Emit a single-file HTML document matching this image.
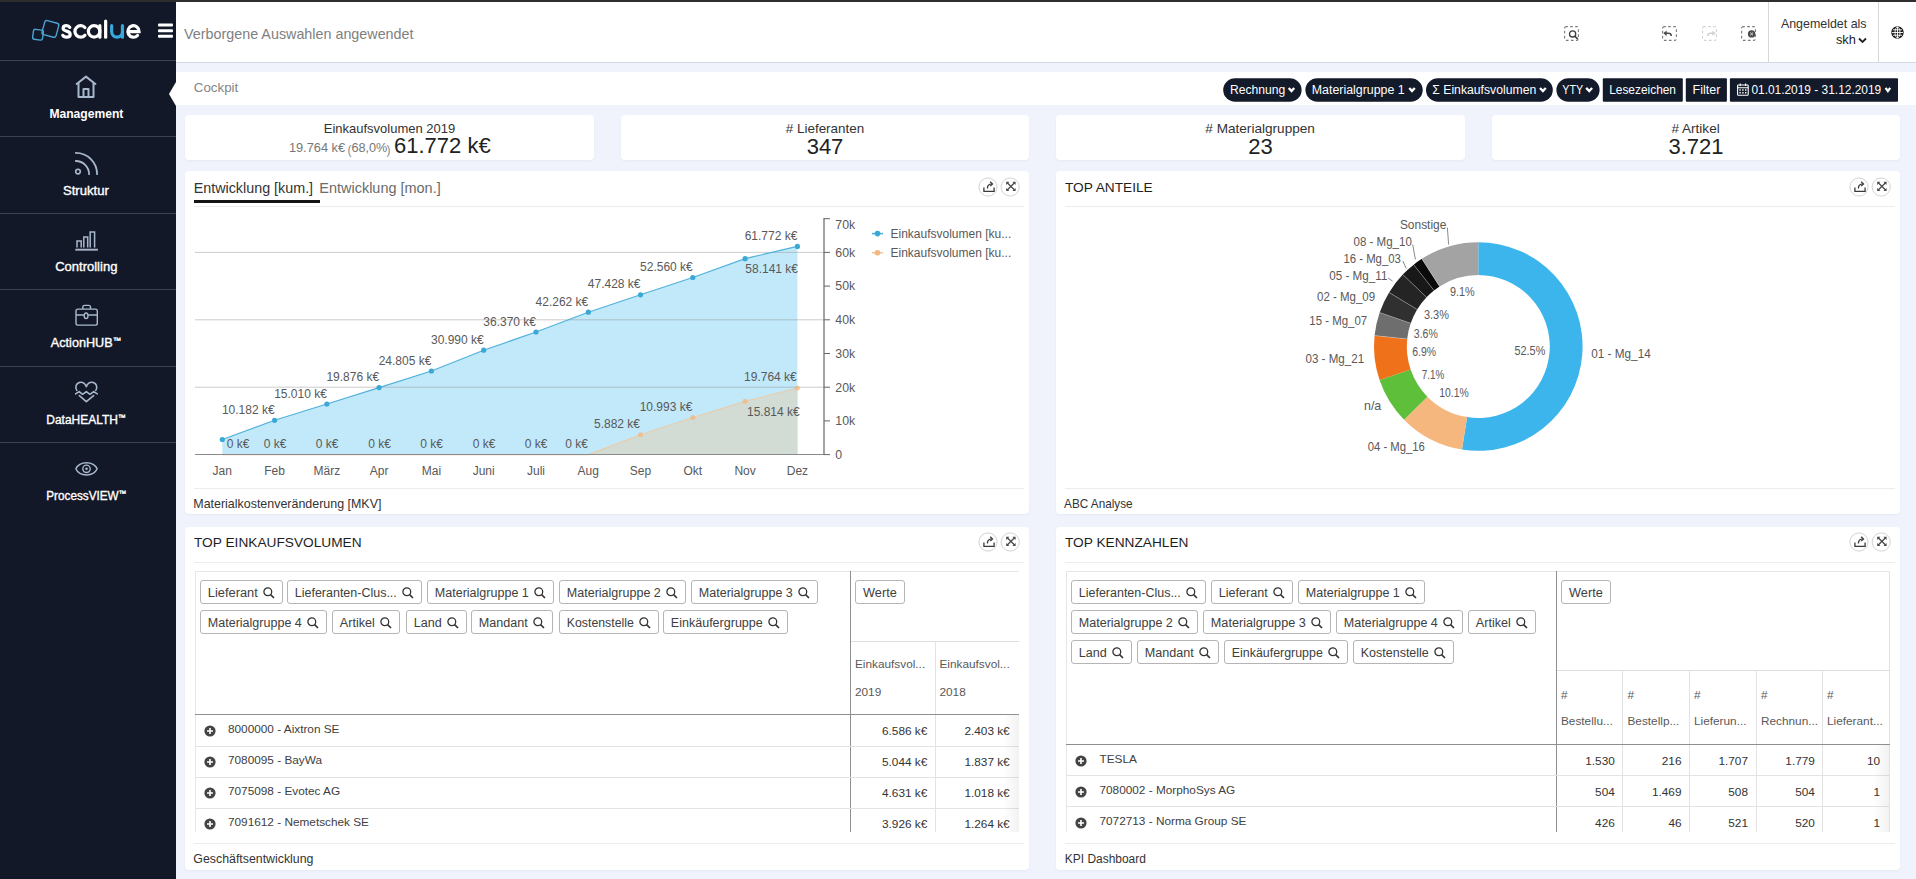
<!DOCTYPE html>
<html><head><meta charset="utf-8">
<style>
*{box-sizing:border-box;margin:0;padding:0}
html,body{width:1916px;height:879px;overflow:hidden;background:#f0f3fb;font-family:"Liberation Sans",sans-serif;color:#333}
.a{position:absolute}
.t{position:absolute;white-space:nowrap;line-height:1}
#topline{left:0;top:0;width:1916px;height:2px;background:#2e2e2e}
#side{left:0;top:2px;width:176px;height:877px;background:#131828}
.sep{position:absolute;left:0;width:176px;height:1px;background:#3b4354}
.mi{position:absolute;left:0;width:172px;text-align:center;color:#f2f4f7;font-size:12.5px;-webkit-text-stroke:0.3px #f2f4f7;line-height:1;white-space:nowrap}
#hdr{left:176px;top:2px;width:1740px;height:61px;background:#fff;border-bottom:1px solid #d5dae4}
#crumb{left:176px;top:72px;width:1740px;height:33px;background:#fff}
.card{position:absolute;background:#fff;border-radius:4px;box-shadow:0 1px 2px rgba(40,50,80,0.05)}
.pill{position:absolute;top:78px;height:24px;background:#131a2a;color:#fff;font-size:12.5px;line-height:24px;white-space:nowrap;text-align:center}
.chip{position:absolute;height:24px;border:1px solid #b5b5b5;border-radius:3px;background:#fff;color:#404040;font-size:12.3px;line-height:24px;padding-left:8px;white-space:nowrap}
.chip svg{position:absolute;right:6.7px;top:5.7px}
.ic{position:absolute;width:19px;height:19px;border:1px solid #c9c9c9;border-radius:50%;background:#fff}
.cl{font-size:11.5px;color:#595959}
</style></head><body>
<div id="topline" class="a"></div>
<div id="side" class="a"></div>

<svg class="a" style="left:28px;top:14px" width="120" height="30" viewBox="28 14 120 30">
 <g fill="none" stroke="#4aa3d2" stroke-width="1.4">
  <rect x="43.15" y="21.65" width="14.5" height="14.5" rx="2.2" transform="rotate(15 50.4 28.9)"/>
  <rect x="33" y="29.7" width="10" height="10" rx="2" transform="rotate(8 38 34.7)"/>
 </g>
 <g fill="none" stroke="#fff" stroke-width="3.2" stroke-linecap="round">
  <path d="M69.8 27.4 C69 26.1 67.8 25.65 66.4 25.65 C64.3 25.65 63.1 26.8 63.1 28.3 C63.1 30 64.7 30.6 66.6 31.1 C68.8 31.7 70.2 32.5 70.2 34.4 C70.2 36.2 68.6 37.15 66.5 37.15 C64.7 37.15 63.4 36.5 62.8 35.3"/>
  <path d="M84.9 27.5 A5.75 5.75 0 1 0 84.9 35.3"/>
  <circle cx="94.1" cy="31.4" r="5.75"/>
  <path d="M99.85 25.65 V37.15"/>
  <path d="M105.65 21.1 V37.15"/>
  <path d="M127.9 31.6 H139.1 A5.6 5.75 0 1 0 137.5 35.5"/>
 </g>
 <g fill="none" stroke="#3aa7dc" stroke-width="3.2" stroke-linecap="round">
  <path d="M111.65 25.65 V31.6 A5.4 5.55 0 0 0 122.45 31.6 M122.45 25.65 V37.15"/>
 </g>
</svg>
<svg class="a" style="left:157px;top:22px" width="17" height="18" viewBox="0 0 17 18">
 <rect x="1" y="1.6" width="15" height="3" rx="1" fill="#fff"/>
 <rect x="1" y="7.2" width="15" height="3" rx="1" fill="#fff"/>
 <rect x="1" y="12.7" width="15" height="3" rx="1" fill="#fff"/>
</svg>
<div class="sep" style="top:60px"></div>
<div class="sep" style="top:136px"></div>
<div class="sep" style="top:213px"></div>
<div class="sep" style="top:289px"></div>
<div class="sep" style="top:366px"></div>
<div class="sep" style="top:442px"></div>
<!-- icons -->
<svg class="a" style="left:74px;top:74px" width="24" height="25" viewBox="0 0 24 25" fill="none" stroke="#a8b8cc" stroke-width="2" stroke-linejoin="round">
 <path d="M2 10.5 L12 2.6 L22 10.5"/><path d="M4.5 9 V23 H19.5 V9"/><path d="M9.5 23 V15 H14.5 V23"/>
</svg>
<svg class="a" style="left:74px;top:151px" width="25" height="25" viewBox="0 0 25 25" fill="none" stroke="#a8b8cc" stroke-width="1.8" stroke-linecap="round">
 <circle cx="4" cy="20.6" r="2.3" stroke-width="1.6"/>
 <path d="M1.8 10 A13.3 13.3 0 0 1 15.1 23.2"/>
 <path d="M1.8 1.9 A21.3 21.3 0 0 1 23.1 23.2"/>
</svg>
<svg class="a" style="left:74px;top:230px" width="25" height="22" viewBox="0 0 25 22" fill="none" stroke="#a8b8cc" stroke-width="1.5">
 <path d="M3 17.6 V10.9 H7.2 V17.6"/><path d="M9.8 17.6 V6.9 H13.7 V17.6"/><path d="M16.2 17.6 V1.9 H20.6 V17.6"/>
 <path d="M1.3 19.7 H23.9" stroke-width="1.9"/>
</svg>
<svg class="a" style="left:74px;top:304px" width="25" height="23" viewBox="0 0 25 23" fill="none" stroke="#a8b8cc" stroke-width="1.4">
 <rect x="2" y="5.1" width="21.3" height="16" rx="1.8"/><path d="M8.8 5.1 V3.2 Q8.8 1.4 10.6 1.4 H14.7 Q16.5 1.4 16.5 3.2 V5.1"/><path d="M2 11 H10.1 M14.1 11 H23.3"/><ellipse cx="12.1" cy="11.8" rx="1.9" ry="2.8"/>
</svg>
<svg class="a" style="left:74px;top:380px" width="25" height="23" viewBox="0 0 25 23" fill="none" stroke="#a8b8cc" stroke-width="1.6" stroke-linejoin="round" stroke-linecap="round">
 <path d="M2.8 10.4 C0.8 7.5 2 2.4 6.8 2.3 C9.6 2.3 11.4 4.2 12.3 6.6 C13.2 4.2 15 2.3 17.8 2.3 C22.6 2.4 23.8 7.5 21.8 10.4"/>
 <path d="M1.6 13.9 L5.2 11.6 L8.6 14.3 L12.3 11.6 L16 14.3 L19.7 11.6 L23.3 13.9"/>
 <path d="M5.4 15.6 L12.3 21.6 L19.6 15.6"/>
</svg>
<svg class="a" style="left:74px;top:460px" width="25" height="18" viewBox="0 0 25 18" fill="none" stroke="#a8b8cc" stroke-width="1.5">
 <path d="M1.85 8.8 C5.5 0.6 19.5 0.6 23.15 8.8 C19.5 17 5.5 17 1.85 8.8 Z"/>
 <circle cx="12.5" cy="8.8" r="3.7" stroke-width="1.4"/><circle cx="12.5" cy="8.8" r="1.3" fill="#a8b8cc" stroke="none"/>
</svg>
<svg class="a" style="left:0;top:0" width="176" height="520" viewBox="0 0 176 520" font-family="Liberation Sans, sans-serif" fill="#fff">
<text x="49.4" y="117.7" textLength="74.0" lengthAdjust="spacingAndGlyphs" font-size="12" font-weight="bold">Management</text>
<text x="62.9" y="194.9" textLength="45.9" lengthAdjust="spacingAndGlyphs" font-size="12.5" stroke="#fff" stroke-width="0.35">Struktur</text>
<text x="55.2" y="270.9" textLength="62.2" lengthAdjust="spacingAndGlyphs" font-size="12.5" stroke="#fff" stroke-width="0.35">Controlling</text>
<text x="50.8" y="346.7" textLength="70.0" lengthAdjust="spacingAndGlyphs" font-size="12.5" stroke="#fff" stroke-width="0.35">ActionHUB<tspan font-size="8" dy="-4">&#8482;</tspan></text>
<text x="46.3" y="423.7" textLength="79.2" lengthAdjust="spacingAndGlyphs" font-size="12.5" stroke="#fff" stroke-width="0.35">DataHEALTH<tspan font-size="8" dy="-4">&#8482;</tspan></text>
<text x="46.3" y="499.7" textLength="79.8" lengthAdjust="spacingAndGlyphs" font-size="12.5" stroke="#fff" stroke-width="0.35">ProcessVIEW<tspan font-size="8" dy="-4">&#8482;</tspan></text>
</svg>
<svg class="a" style="left:168px;top:82px" width="9" height="24" viewBox="0 0 9 24"><path d="M8 0 L1 12 L8 24 Z" fill="#fff"/></svg>
<div id="hdr" class="a"></div>
<div id="crumb" class="a"></div>

<svg class="a" style="left:0;top:0" width="1916" height="110" viewBox="0 0 1916 110" font-family="Liberation Sans, sans-serif"><text x="184.1" y="38.5" textLength="229.4" lengthAdjust="spacingAndGlyphs" font-size="15" fill="#808080">Verborgene Auswahlen angewendet</text><text x="1780.9" y="27.7" textLength="85.7" lengthAdjust="spacingAndGlyphs" font-size="12.2" fill="#333">Angemeldet als</text><text x="1835.9" y="44.4" textLength="19.9" lengthAdjust="spacingAndGlyphs" font-size="13" fill="#222">skh</text><text x="193.8" y="91.9" textLength="44.5" lengthAdjust="spacingAndGlyphs" font-size="12.6" fill="#858585">Cockpit</text></svg>
<!-- toolbar icons -->
<svg class="a" style="left:1563.5px;top:26.3px" width="16" height="16" viewBox="0 0 16 16" fill="none" stroke="#7a7a7a" stroke-width="1.1">
 <rect x="0.6" y="0.6" width="13.8" height="13.8" rx="1.6" stroke-dasharray="2.6 2.4" stroke-dashoffset="1"/>
 <circle cx="8.6" cy="7.9" r="3.1" stroke="#3d3d3d" stroke-width="1.3"/><path d="M10.9 10.2 L13.8 13.1" stroke="#3d3d3d" stroke-width="1.6"/>
</svg>
<svg class="a" style="left:1661.7px;top:26.3px" width="16" height="16" viewBox="0 0 16 16" fill="none" stroke="#7a7a7a" stroke-width="1.1">
 <rect x="0.6" y="0.6" width="13.8" height="13.8" rx="1.6" stroke-dasharray="2.6 2.4" stroke-dashoffset="1"/>
 <path d="M2.5 7.2 H6.5 C8.6 7.2 9.3 8.4 9.3 10" stroke="#4a4a4a" stroke-width="1.5"/><path d="M1.3 7.2 L4.6 4.4 V10 Z" fill="#4a4a4a" stroke="none"/>
</svg>
<svg class="a" style="left:1701.7px;top:26.3px" width="16" height="16" viewBox="0 0 16 16" fill="none" stroke="#d2d2d2" stroke-width="1.1">
 <rect x="0.6" y="0.6" width="13.8" height="13.8" rx="1.6" stroke-dasharray="2.6 2.4" stroke-dashoffset="1"/>
 <path d="M12.5 7.2 H8.5 C6.4 7.2 5.7 8.4 5.7 10" stroke-width="1.5"/><path d="M13.7 7.2 L10.4 4.4 V10 Z" fill="#d2d2d2" stroke="none"/>
</svg>
<svg class="a" style="left:1741.2px;top:26.3px" width="16" height="16" viewBox="0 0 16 16" fill="none" stroke="#7a7a7a" stroke-width="1.1">
 <rect x="0.6" y="0.6" width="13.8" height="13.8" rx="1.6" stroke-dasharray="2.6 2.4" stroke-dashoffset="1"/>
 <circle cx="10.6" cy="7.9" r="3.7" fill="#4a4a4a" stroke="none"/><path d="M9.2 6.5 L12 9.3 M12 6.5 L9.2 9.3" stroke="#ddd" stroke-width="1"/>
</svg>
<div class="a" style="left:1768px;top:2px;width:1px;height:60px;background:#d8d8d8"></div>
<div class="a" style="left:1878px;top:2px;width:1px;height:60px;background:#d8d8d8"></div>


<svg class="a" style="left:1858px;top:37px" width="9" height="7" viewBox="0 0 9 7"><path d="M1 1.5 L4.5 5 L8 1.5" fill="none" stroke="#222" stroke-width="1.8"/></svg>
<svg class="a" style="left:1891px;top:26px" width="13" height="13" viewBox="0 0 13 13" fill="none" stroke="#1a1a1a" stroke-width="1.4">
 <circle cx="6.5" cy="6.5" r="5.5" fill="#1a1a1a"/><path d="M1 6.5 H12 M6.5 1 V12 M2 3.8 H11 M2 9.2 H11" stroke="#fff" stroke-width="0.9"/><ellipse cx="6.5" cy="6.5" rx="2.5" ry="5.5" stroke="#fff" stroke-width="0.9"/>
</svg>


<svg class="a" style="left:0;top:0" width="1916" height="110" viewBox="0 0 1916 110">
<rect x="1223.2" y="78.2" width="78.4" height="23.5" rx="12" fill="#131a2a"/>
<text x="1230.0" y="93.6" textLength="55.3" lengthAdjust="spacingAndGlyphs" font-family="Liberation Sans, sans-serif" font-size="12.3" fill="#fff">Rechnung</text>
<path d="M1288.7 87.9 L1291.5 91.1 L1294.2 87.9" fill="none" stroke="#fff" stroke-width="2.3"/>
<rect x="1305.4" y="78.2" width="117.3" height="23.5" rx="12" fill="#131a2a"/>
<text x="1311.8" y="93.6" textLength="92.9" lengthAdjust="spacingAndGlyphs" font-family="Liberation Sans, sans-serif" font-size="12.3" fill="#fff">Materialgruppe 1</text>
<path d="M1409.3 87.9 L1412.0 91.1 L1414.8 87.9" fill="none" stroke="#fff" stroke-width="2.3"/>
<rect x="1426.0" y="78.2" width="126.8" height="23.5" rx="12" fill="#131a2a"/>
<text x="1432.3" y="93.6" textLength="104.0" lengthAdjust="spacingAndGlyphs" font-family="Liberation Sans, sans-serif" font-size="12.3" fill="#fff">&#931; Einkaufsvolumen</text>
<path d="M1540.0 87.9 L1542.9 91.1 L1545.8 87.9" fill="none" stroke="#fff" stroke-width="2.3"/>
<rect x="1556.4" y="78.2" width="43.2" height="23.5" rx="12" fill="#131a2a"/>
<text x="1562.3" y="93.6" textLength="20.8" lengthAdjust="spacingAndGlyphs" font-family="Liberation Sans, sans-serif" font-size="12.3" fill="#fff">YTY</text>
<path d="M1586.2 87.9 L1589.2 91.1 L1592.1 87.9" fill="none" stroke="#fff" stroke-width="2.3"/>
<rect x="1602.8" y="78.2" width="80.0" height="23.5" rx="1" fill="#131a2a"/>
<text x="1609.2" y="93.6" textLength="66.8" lengthAdjust="spacingAndGlyphs" font-family="Liberation Sans, sans-serif" font-size="12.3" fill="#fff">Lesezeichen</text>
<rect x="1685.8" y="78.2" width="41.1" height="23.5" rx="1" fill="#131a2a"/>
<text x="1692.6" y="93.6" textLength="27.9" lengthAdjust="spacingAndGlyphs" font-family="Liberation Sans, sans-serif" font-size="12.3" fill="#fff">Filter</text>
<rect x="1729.9" y="78.2" width="168.1" height="23.5" rx="1" fill="#131a2a"/>
<text x="1751.4" y="93.6" textLength="129.8" lengthAdjust="spacingAndGlyphs" font-family="Liberation Sans, sans-serif" font-size="12.3" fill="#fff">01.01.2019 - 31.12.2019</text>
<path d="M1885.6 87.9 L1887.9 91.1 L1890.2 87.9" fill="none" stroke="#fff" stroke-width="2.3"/>
<g transform="translate(1737,83.5)" fill="none" stroke="#fff" stroke-width="1.1"><rect x="0.6" y="1.5" width="10.6" height="10.2" rx="0.8"/><path d="M0.6 4.2 H11.2 M3.2 0 V2.6 M8.6 0 V2.6"/><path d="M2.4 6.5 h1.4 M5.2 6.5 h1.4 M8 6.5 h1.4 M2.4 9.2 h1.4 M5.2 9.2 h1.4 M8 9.2 h1.4" stroke-width="1.5"/></g>
</svg>

<div class="card" style="left:185px;top:115px;width:409px;height:45px"></div>
<div class="card" style="left:621px;top:115px;width:408px;height:45px"></div>
<div class="card" style="left:1056px;top:115px;width:409px;height:45px"></div>
<div class="card" style="left:1492px;top:115px;width:408px;height:45px"></div>
<div class="t" style="left:185px;width:409px;text-align:center;top:122px;font-size:13px;color:#333">Einkaufsvolumen 2019</div>
<svg class="a" style="left:280px;top:136px" width="120" height="24" viewBox="280 136 120 24" font-family="Liberation Sans, sans-serif"><text x="288.9" y="151.8" textLength="56.2" lengthAdjust="spacingAndGlyphs" font-size="12.2" fill="#777">19.764 k&#8364;</text><text x="347.4" y="154.2" font-size="12" fill="#888">(</text><text x="351.4" y="151.7" textLength="35.9" lengthAdjust="spacingAndGlyphs" font-size="12.1" fill="#777">68,0%</text><text x="386.6" y="154.2" font-size="12" fill="#888">)</text></svg>
<div class="t" style="left:394px;top:135px;font-size:22px;color:#222">61.772 k&#8364;</div>

<svg class="a" style="left:0;top:110px" width="1916" height="30" viewBox="0 110 1916 30" font-family="Liberation Sans, sans-serif" font-size="13" fill="#333">
<text x="785.8" y="132.8" textLength="78.4" lengthAdjust="spacingAndGlyphs"># Lieferanten</text>
<text x="1205.3" y="132.8" textLength="109.6" lengthAdjust="spacingAndGlyphs"># Materialgruppen</text>
<text x="1671.5" y="132.8" textLength="48.2" lengthAdjust="spacingAndGlyphs"># Artikel</text>
</svg>
<div class="t" style="left:621px;width:408px;text-align:center;top:135.5px;font-size:22px;color:#222">347</div>

<div class="t" style="left:1056px;width:409px;text-align:center;top:135.5px;font-size:22px;color:#222">23</div>

<div class="t" style="left:1492px;width:408px;text-align:center;top:135.5px;font-size:22px;color:#222">3.721</div>

<div class="card" id="p1" style="left:185px;top:171px;width:844px;height:343px"></div>
<div class="card" id="p2" style="left:1056px;top:171px;width:844px;height:343px"></div>
<div class="card" id="p3" style="left:185px;top:527px;width:844px;height:343px"></div>
<div class="card" id="p4" style="left:1056px;top:527px;width:844px;height:343px"></div>

<div class="a" style="left:194px;top:200px;width:126px;height:3px;background:#141414"></div>
<div class="a" style="left:194px;top:206px;width:830px;height:1px;background:#ececec"></div>
<div class="a" style="left:194px;top:488px;width:830px;height:1px;background:#ececec"></div>
<svg class="a" style="left:978.3px;top:177.0px" width="44" height="20" viewBox="0 0 44 20">
<circle cx="10" cy="10" r="9.1" fill="#fff" stroke="#d2d2d2" stroke-width="1"/>
<circle cx="32.2" cy="10" r="9.1" fill="#fff" stroke="#d2d2d2" stroke-width="1"/>
<path d="M5.9 10.6 V14.4 H16.1 V10.6" fill="none" stroke="#3a3a3a" stroke-width="1.3"/>
<path d="M9.4 11.6 C9.4 8.6 11 7 13.8 6.9" fill="none" stroke="#3a3a3a" stroke-width="1.3"/>
<path d="M12.2 4.7 L14.5 6.9 L12.2 9.1" fill="none" stroke="#3a3a3a" stroke-width="1.3"/>
<path d="M29 5.5 L36.8 13.3 M36.8 5.5 L29 13.3" stroke="#4a4a4a" stroke-width="1.3"/>
<path d="M28.2 4.7 h3.2 l-3.2 3.2z M37.6 4.7 h-3.2 l3.2 3.2z M28.2 14.1 h3.2 l-3.2 -3.2z M37.6 14.1 h-3.2 l3.2 -3.2z" fill="#4a4a4a"/>
</svg><svg class="a" style="left:0;top:0" width="1916" height="879" viewBox="0 0 1916 879"><polygon points="222.3,454.5 222.3,439.5 274.6,420.3 326.9,404.0 379.1,387.6 431.4,371.0 483.7,350.2 536.0,332.0 588.3,312.2 640.5,294.8 692.8,277.5 745.1,258.7 797.4,246.4 797.4,454.5" fill="#c2e9fa"/><polygon points="222.3,454.5 222.3,454.6 274.6,454.6 326.9,454.6 379.1,454.6 431.4,454.6 483.7,454.6 536.0,454.6 588.3,454.6 640.5,434.8 692.8,417.6 745.1,401.3 797.4,388.0 797.4,454.5" fill="#d2dcd4"/><line x1="195" x2="824" y1="387.2" y2="387.2" stroke="#8c8c8c" stroke-opacity="0.45" stroke-width="1"/><line x1="195" x2="824" y1="319.8" y2="319.8" stroke="#8c8c8c" stroke-opacity="0.45" stroke-width="1"/><line x1="195" x2="824" y1="252.4" y2="252.4" stroke="#8c8c8c" stroke-opacity="0.45" stroke-width="1"/><polyline points="222.3,439.5 274.6,420.3 326.9,404.0 379.1,387.6 431.4,371.0 483.7,350.2 536.0,332.0 588.3,312.2 640.5,294.8 692.8,277.5 745.1,258.7 797.4,246.4" fill="none" stroke="#4fb1dc" stroke-width="1.2"/><polyline points="222.3,454.6 274.6,454.6 326.9,454.6 379.1,454.6 431.4,454.6 483.7,454.6 536.0,454.6 588.3,454.6 640.5,434.8 692.8,417.6 745.1,401.3 797.4,388.0" fill="none" stroke="#f0c8a0" stroke-width="1.1" stroke-opacity="0.85"/><circle cx="222.3" cy="439.5" r="2.6" fill="#3ba8d6"/><circle cx="274.6" cy="420.3" r="2.6" fill="#3ba8d6"/><circle cx="326.9" cy="404.0" r="2.6" fill="#3ba8d6"/><circle cx="379.1" cy="387.6" r="2.6" fill="#3ba8d6"/><circle cx="431.4" cy="371.0" r="2.6" fill="#3ba8d6"/><circle cx="483.7" cy="350.2" r="2.6" fill="#3ba8d6"/><circle cx="536.0" cy="332.0" r="2.6" fill="#3ba8d6"/><circle cx="588.3" cy="312.2" r="2.6" fill="#3ba8d6"/><circle cx="640.5" cy="294.8" r="2.6" fill="#3ba8d6"/><circle cx="692.8" cy="277.5" r="2.6" fill="#3ba8d6"/><circle cx="745.1" cy="258.7" r="2.6" fill="#3ba8d6"/><circle cx="797.4" cy="246.4" r="2.6" fill="#3ba8d6"/><circle cx="640.5" cy="434.8" r="2.5" fill="#f2b67f" fill-opacity="0.75"/><circle cx="692.8" cy="417.6" r="2.5" fill="#f2b67f" fill-opacity="0.75"/><circle cx="745.1" cy="401.3" r="2.5" fill="#f2b67f" fill-opacity="0.75"/><circle cx="797.4" cy="388.0" r="2.5" fill="#f2b67f" fill-opacity="0.75"/><line x1="195" x2="824" y1="454.5" y2="454.5" stroke="#8a8a8a" stroke-width="1.2"/><line x1="824" x2="824" y1="218" y2="455" stroke="#666" stroke-width="1.2"/><line x1="824" x2="830" y1="454.6" y2="454.6" stroke="#666" stroke-width="1"/><text x="835.3" y="458.9" font-family="Liberation Sans, sans-serif" font-size="12.3" fill="#595959">0</text><line x1="824" x2="830" y1="420.9" y2="420.9" stroke="#666" stroke-width="1"/><text x="835.3" y="425.2" font-family="Liberation Sans, sans-serif" font-size="12.3" fill="#595959">10k</text><line x1="824" x2="830" y1="387.2" y2="387.2" stroke="#666" stroke-width="1"/><text x="835.3" y="391.5" font-family="Liberation Sans, sans-serif" font-size="12.3" fill="#595959">20k</text><line x1="824" x2="830" y1="353.5" y2="353.5" stroke="#666" stroke-width="1"/><text x="835.3" y="357.8" font-family="Liberation Sans, sans-serif" font-size="12.3" fill="#595959">30k</text><line x1="824" x2="830" y1="319.8" y2="319.8" stroke="#666" stroke-width="1"/><text x="835.3" y="324.1" font-family="Liberation Sans, sans-serif" font-size="12.3" fill="#595959">40k</text><line x1="824" x2="830" y1="286.1" y2="286.1" stroke="#666" stroke-width="1"/><text x="835.3" y="290.4" font-family="Liberation Sans, sans-serif" font-size="12.3" fill="#595959">50k</text><line x1="824" x2="830" y1="252.4" y2="252.4" stroke="#666" stroke-width="1"/><text x="835.3" y="256.7" font-family="Liberation Sans, sans-serif" font-size="12.3" fill="#595959">60k</text><line x1="824" x2="830" y1="218.7" y2="218.7" stroke="#666" stroke-width="1"/><text x="835.3" y="229.1" font-family="Liberation Sans, sans-serif" font-size="12.3" fill="#595959">70k</text><text x="222.3" y="475" text-anchor="middle" font-family="Liberation Sans, sans-serif" font-size="12" fill="#595959">Jan</text><text x="274.6" y="475" text-anchor="middle" font-family="Liberation Sans, sans-serif" font-size="12" fill="#595959">Feb</text><text x="326.9" y="475" text-anchor="middle" font-family="Liberation Sans, sans-serif" font-size="12" fill="#595959">März</text><text x="379.1" y="475" text-anchor="middle" font-family="Liberation Sans, sans-serif" font-size="12" fill="#595959">Apr</text><text x="431.4" y="475" text-anchor="middle" font-family="Liberation Sans, sans-serif" font-size="12" fill="#595959">Mai</text><text x="483.7" y="475" text-anchor="middle" font-family="Liberation Sans, sans-serif" font-size="12" fill="#595959">Juni</text><text x="536.0" y="475" text-anchor="middle" font-family="Liberation Sans, sans-serif" font-size="12" fill="#595959">Juli</text><text x="588.3" y="475" text-anchor="middle" font-family="Liberation Sans, sans-serif" font-size="12" fill="#595959">Aug</text><text x="640.5" y="475" text-anchor="middle" font-family="Liberation Sans, sans-serif" font-size="12" fill="#595959">Sep</text><text x="692.8" y="475" text-anchor="middle" font-family="Liberation Sans, sans-serif" font-size="12" fill="#595959">Okt</text><text x="745.1" y="475" text-anchor="middle" font-family="Liberation Sans, sans-serif" font-size="12" fill="#595959">Nov</text><text x="797.4" y="475" text-anchor="middle" font-family="Liberation Sans, sans-serif" font-size="12" fill="#595959">Dez</text><text x="274.6" y="413.8" text-anchor="end" font-family="Liberation Sans, sans-serif" font-size="12" fill="#595959">10.182 k€</text><text x="326.9" y="397.5" text-anchor="end" font-family="Liberation Sans, sans-serif" font-size="12" fill="#595959">15.010 k€</text><text x="379.1" y="381.1" text-anchor="end" font-family="Liberation Sans, sans-serif" font-size="12" fill="#595959">19.876 k€</text><text x="431.4" y="364.5" text-anchor="end" font-family="Liberation Sans, sans-serif" font-size="12" fill="#595959">24.805 k€</text><text x="483.7" y="343.7" text-anchor="end" font-family="Liberation Sans, sans-serif" font-size="12" fill="#595959">30.990 k€</text><text x="536.0" y="325.5" text-anchor="end" font-family="Liberation Sans, sans-serif" font-size="12" fill="#595959">36.370 k€</text><text x="588.3" y="305.7" text-anchor="end" font-family="Liberation Sans, sans-serif" font-size="12" fill="#595959">42.262 k€</text><text x="640.5" y="288.3" text-anchor="end" font-family="Liberation Sans, sans-serif" font-size="12" fill="#595959">47.428 k€</text><text x="692.8" y="271.0" text-anchor="end" font-family="Liberation Sans, sans-serif" font-size="12" fill="#595959">52.560 k€</text><text x="798" y="273.4" text-anchor="end" font-family="Liberation Sans, sans-serif" font-size="12" fill="#595959">58.141 k€</text><text x="797.4" y="239.9" text-anchor="end" font-family="Liberation Sans, sans-serif" font-size="12" fill="#595959">61.772 k€</text><text x="238.0" y="448.3" text-anchor="middle" font-family="Liberation Sans, sans-serif" font-size="12" fill="#595959">0 k€</text><text x="275.0" y="448.3" text-anchor="middle" font-family="Liberation Sans, sans-serif" font-size="12" fill="#595959">0 k€</text><text x="327.0" y="448.3" text-anchor="middle" font-family="Liberation Sans, sans-serif" font-size="12" fill="#595959">0 k€</text><text x="379.6" y="448.3" text-anchor="middle" font-family="Liberation Sans, sans-serif" font-size="12" fill="#595959">0 k€</text><text x="431.7" y="448.3" text-anchor="middle" font-family="Liberation Sans, sans-serif" font-size="12" fill="#595959">0 k€</text><text x="484.0" y="448.3" text-anchor="middle" font-family="Liberation Sans, sans-serif" font-size="12" fill="#595959">0 k€</text><text x="536.0" y="448.3" text-anchor="middle" font-family="Liberation Sans, sans-serif" font-size="12" fill="#595959">0 k€</text><text x="576.5" y="448.3" text-anchor="middle" font-family="Liberation Sans, sans-serif" font-size="12" fill="#595959">0 k€</text><text x="640" y="427.5" text-anchor="end" font-family="Liberation Sans, sans-serif" font-size="12" fill="#595959">5.882 k€</text><text x="692.4" y="410.7" text-anchor="end" font-family="Liberation Sans, sans-serif" font-size="12" fill="#595959">10.993 k€</text><text x="799.7" y="415.5" text-anchor="end" font-family="Liberation Sans, sans-serif" font-size="12" fill="#595959">15.814 k€</text><text x="796.8" y="380.7" text-anchor="end" font-family="Liberation Sans, sans-serif" font-size="12" fill="#595959">19.764 k€</text><line x1="872" x2="883" y1="233.6" y2="233.6" stroke="#45aedb" stroke-width="1.5"/><circle cx="877.5" cy="233.6" r="2.8" fill="#3ba8d6"/><text x="890.5" y="237.8" font-family="Liberation Sans, sans-serif" font-size="12" fill="#595959">Einkaufsvolumen [ku...</text><line x1="872" x2="883" y1="252.7" y2="252.7" stroke="#f1c298" stroke-width="1.5"/><circle cx="877.5" cy="252.7" r="2.8" fill="#f2b67f"/><text x="890.5" y="256.9" font-family="Liberation Sans, sans-serif" font-size="12" fill="#595959">Einkaufsvolumen [ku...</text></svg>
<div class="t" style="left:1065px;top:181.2px;font-size:13.7px;color:#1e1e1e">TOP ANTEILE</div>
<div class="a" style="left:1065px;top:206px;width:830px;height:1px;background:#ececec"></div>
<div class="a" style="left:1065px;top:488px;width:830px;height:1px;background:#ececec"></div>
<svg class="a" style="left:1849.3px;top:177.0px" width="44" height="20" viewBox="0 0 44 20">
<circle cx="10" cy="10" r="9.1" fill="#fff" stroke="#d2d2d2" stroke-width="1"/>
<circle cx="32.2" cy="10" r="9.1" fill="#fff" stroke="#d2d2d2" stroke-width="1"/>
<path d="M5.9 10.6 V14.4 H16.1 V10.6" fill="none" stroke="#3a3a3a" stroke-width="1.3"/>
<path d="M9.4 11.6 C9.4 8.6 11 7 13.8 6.9" fill="none" stroke="#3a3a3a" stroke-width="1.3"/>
<path d="M12.2 4.7 L14.5 6.9 L12.2 9.1" fill="none" stroke="#3a3a3a" stroke-width="1.3"/>
<path d="M29 5.5 L36.8 13.3 M36.8 5.5 L29 13.3" stroke="#4a4a4a" stroke-width="1.3"/>
<path d="M28.2 4.7 h3.2 l-3.2 3.2z M37.6 4.7 h-3.2 l3.2 3.2z M28.2 14.1 h3.2 l-3.2 -3.2z M37.6 14.1 h-3.2 l3.2 -3.2z" fill="#4a4a4a"/>
</svg>
<div class="t" style="left:194px;top:536.2px;font-size:13.7px;color:#1e1e1e">TOP EINKAUFSVOLUMEN</div>
<div class="a" style="left:194px;top:562px;width:830px;height:1px;background:#ececec"></div>
<div class="a" style="left:194px;top:843px;width:830px;height:1px;background:#ececec"></div>
<svg class="a" style="left:978.3px;top:532.0px" width="44" height="20" viewBox="0 0 44 20">
<circle cx="10" cy="10" r="9.1" fill="#fff" stroke="#d2d2d2" stroke-width="1"/>
<circle cx="32.2" cy="10" r="9.1" fill="#fff" stroke="#d2d2d2" stroke-width="1"/>
<path d="M5.9 10.6 V14.4 H16.1 V10.6" fill="none" stroke="#3a3a3a" stroke-width="1.3"/>
<path d="M9.4 11.6 C9.4 8.6 11 7 13.8 6.9" fill="none" stroke="#3a3a3a" stroke-width="1.3"/>
<path d="M12.2 4.7 L14.5 6.9 L12.2 9.1" fill="none" stroke="#3a3a3a" stroke-width="1.3"/>
<path d="M29 5.5 L36.8 13.3 M36.8 5.5 L29 13.3" stroke="#4a4a4a" stroke-width="1.3"/>
<path d="M28.2 4.7 h3.2 l-3.2 3.2z M37.6 4.7 h-3.2 l3.2 3.2z M28.2 14.1 h3.2 l-3.2 -3.2z M37.6 14.1 h-3.2 l3.2 -3.2z" fill="#4a4a4a"/>
</svg>
<div class="t" style="left:1065px;top:536.2px;font-size:13.7px;color:#1e1e1e">TOP KENNZAHLEN</div>
<div class="a" style="left:1065px;top:562px;width:830px;height:1px;background:#ececec"></div>
<div class="a" style="left:1065px;top:843px;width:830px;height:1px;background:#ececec"></div>
<svg class="a" style="left:1849.3px;top:532.0px" width="44" height="20" viewBox="0 0 44 20">
<circle cx="10" cy="10" r="9.1" fill="#fff" stroke="#d2d2d2" stroke-width="1"/>
<circle cx="32.2" cy="10" r="9.1" fill="#fff" stroke="#d2d2d2" stroke-width="1"/>
<path d="M5.9 10.6 V14.4 H16.1 V10.6" fill="none" stroke="#3a3a3a" stroke-width="1.3"/>
<path d="M9.4 11.6 C9.4 8.6 11 7 13.8 6.9" fill="none" stroke="#3a3a3a" stroke-width="1.3"/>
<path d="M12.2 4.7 L14.5 6.9 L12.2 9.1" fill="none" stroke="#3a3a3a" stroke-width="1.3"/>
<path d="M29 5.5 L36.8 13.3 M36.8 5.5 L29 13.3" stroke="#4a4a4a" stroke-width="1.3"/>
<path d="M28.2 4.7 h3.2 l-3.2 3.2z M37.6 4.7 h-3.2 l3.2 3.2z M28.2 14.1 h3.2 l-3.2 -3.2z M37.6 14.1 h-3.2 l3.2 -3.2z" fill="#4a4a4a"/>
</svg><svg class="a" style="left:0;top:0" width="1916" height="879" viewBox="0 0 1916 879" font-family="Liberation Sans, sans-serif"><text x="193.7" y="193.4" textLength="119.4" lengthAdjust="spacingAndGlyphs" font-size="14.3" fill="#333" >Entwicklung [kum.]</text><text x="319.3" y="193.4" textLength="121.4" lengthAdjust="spacingAndGlyphs" font-size="14.3" fill="#6b6b6b" >Entwicklung [mon.]</text><text x="193.3" y="508.3" textLength="188.1" lengthAdjust="spacingAndGlyphs" font-size="12.4" fill="#333" >Materialkostenveränderung [MKV]</text><text x="1064.1" y="507.8" textLength="68.5" lengthAdjust="spacingAndGlyphs" font-size="12.2" fill="#333" >ABC Analyse</text><text x="193.3" y="863.0" textLength="120.2" lengthAdjust="spacingAndGlyphs" font-size="12.3" fill="#333" >Geschäftsentwicklung</text><text x="1064.8" y="862.9" textLength="81.1" lengthAdjust="spacingAndGlyphs" font-size="12.3" fill="#333" >KPI Dashboard</text></svg><svg class="a" style="left:0;top:0" width="1916" height="879" viewBox="0 0 1916 879"><path d="M1478.30 242.20 A104.3 104.3 0 1 1 1461.98 449.52 L1467.11 417.12 A71.5 71.5 0 1 0 1478.30 275.00 Z" fill="#3cb5ec"/><path d="M1461.98 449.52 A104.3 104.3 0 0 1 1404.04 419.73 L1427.39 396.70 A71.5 71.5 0 0 0 1467.11 417.12 Z" fill="#f5b77e"/><path d="M1404.04 419.73 A104.3 104.3 0 0 1 1379.56 380.11 L1410.61 369.54 A71.5 71.5 0 0 0 1427.39 396.70 Z" fill="#5ebf3a"/><path d="M1379.56 380.11 A104.3 104.3 0 0 1 1374.57 335.60 L1407.19 339.03 A71.5 71.5 0 0 0 1410.61 369.54 Z" fill="#ef7119"/><path d="M1374.57 335.60 A104.3 104.3 0 0 1 1379.68 312.54 L1410.70 323.22 A71.5 71.5 0 0 0 1407.19 339.03 Z" fill="#6e6e6e"/><path d="M1379.68 312.54 A104.3 104.3 0 0 1 1389.09 292.47 L1417.14 309.46 A71.5 71.5 0 0 0 1410.70 323.22 Z" fill="#303030"/><path d="M1389.09 292.47 A104.3 104.3 0 0 1 1402.77 274.57 L1426.52 297.19 A71.5 71.5 0 0 0 1417.14 309.46 Z" fill="#242424"/><path d="M1402.77 274.57 A104.3 104.3 0 0 1 1413.66 264.65 L1433.99 290.39 A71.5 71.5 0 0 0 1426.52 297.19 Z" fill="#181818"/><path d="M1413.66 264.65 A104.3 104.3 0 0 1 1421.80 258.83 L1439.57 286.40 A71.5 71.5 0 0 0 1433.99 290.39 Z" fill="#0a0a0a"/><path d="M1421.80 258.83 A104.3 104.3 0 0 1 1478.30 242.20 L1478.30 275.00 A71.5 71.5 0 0 0 1439.57 286.40 Z" fill="#a3a3a3"/><line x1="1374.57" y1="335.60" x2="1407.19" y2="339.03" stroke="#ffffff" stroke-opacity="0.35" stroke-width="0.8"/><line x1="1379.68" y1="312.54" x2="1410.70" y2="323.22" stroke="#ffffff" stroke-opacity="0.35" stroke-width="0.8"/><line x1="1389.09" y1="292.47" x2="1417.14" y2="309.46" stroke="#ffffff" stroke-opacity="0.35" stroke-width="0.8"/><line x1="1402.77" y1="274.57" x2="1426.52" y2="297.19" stroke="#ffffff" stroke-opacity="0.35" stroke-width="0.8"/><line x1="1413.66" y1="264.65" x2="1433.99" y2="290.39" stroke="#ffffff" stroke-opacity="0.35" stroke-width="0.8"/><line x1="1421.80" y1="258.83" x2="1439.57" y2="286.40" stroke="#ffffff" stroke-opacity="0.35" stroke-width="0.8"/><text x="1591.3" y="357.9" textLength="59.4" lengthAdjust="spacingAndGlyphs" font-family="Liberation Sans, sans-serif" font-size="12.2" fill="#595959">01 - Mg_14</text><text x="1367.7" y="450.9" textLength="57.2" lengthAdjust="spacingAndGlyphs" font-family="Liberation Sans, sans-serif" font-size="12.2" fill="#595959">04 - Mg_16</text><text x="1364.0" y="410.1" textLength="17.3" lengthAdjust="spacingAndGlyphs" font-family="Liberation Sans, sans-serif" font-size="12.2" fill="#595959">n/a</text><text x="1305.5" y="363.1" textLength="58.6" lengthAdjust="spacingAndGlyphs" font-family="Liberation Sans, sans-serif" font-size="12.2" fill="#595959">03 - Mg_21</text><text x="1309.3" y="325.0" textLength="57.8" lengthAdjust="spacingAndGlyphs" font-family="Liberation Sans, sans-serif" font-size="12.2" fill="#595959">15 - Mg_07</text><text x="1317.0" y="301.0" textLength="58.1" lengthAdjust="spacingAndGlyphs" font-family="Liberation Sans, sans-serif" font-size="12.2" fill="#595959">02 - Mg_09</text><text x="1329.3" y="280.2" textLength="58.1" lengthAdjust="spacingAndGlyphs" font-family="Liberation Sans, sans-serif" font-size="12.2" fill="#595959">05 - Mg_11</text><text x="1343.4" y="262.7" textLength="57.5" lengthAdjust="spacingAndGlyphs" font-family="Liberation Sans, sans-serif" font-size="12.2" fill="#595959">16 - Mg_03</text><text x="1353.5" y="245.8" textLength="58.3" lengthAdjust="spacingAndGlyphs" font-family="Liberation Sans, sans-serif" font-size="12.2" fill="#595959">08 - Mg_10</text><text x="1399.9" y="228.9" textLength="46.5" lengthAdjust="spacingAndGlyphs" font-family="Liberation Sans, sans-serif" font-size="12.2" fill="#595959">Sonstige</text><text x="1514.5" y="354.8" textLength="30.8" lengthAdjust="spacingAndGlyphs" font-family="Liberation Sans, sans-serif" font-size="12.2" fill="#595959">52.5%</text><text x="1439.3" y="397.2" textLength="29.5" lengthAdjust="spacingAndGlyphs" font-family="Liberation Sans, sans-serif" font-size="12.2" fill="#595959">10.1%</text><text x="1421.7" y="378.7" textLength="22.5" lengthAdjust="spacingAndGlyphs" font-family="Liberation Sans, sans-serif" font-size="12.2" fill="#595959">7.1%</text><text x="1412.2" y="355.7" textLength="23.8" lengthAdjust="spacingAndGlyphs" font-family="Liberation Sans, sans-serif" font-size="12.2" fill="#595959">6.9%</text><text x="1413.8" y="338.2" textLength="24.0" lengthAdjust="spacingAndGlyphs" font-family="Liberation Sans, sans-serif" font-size="12.2" fill="#595959">3.6%</text><text x="1423.9" y="318.5" textLength="25.0" lengthAdjust="spacingAndGlyphs" font-family="Liberation Sans, sans-serif" font-size="12.2" fill="#595959">3.3%</text><text x="1450.0" y="296.4" textLength="24.7" lengthAdjust="spacingAndGlyphs" font-family="Liberation Sans, sans-serif" font-size="12.2" fill="#595959">9.1%</text><line x1="1447.4" y1="227.6" x2="1448.6" y2="244.5" stroke="#8a8a8a" stroke-width="1"/><line x1="1412.7" y1="244.5" x2="1415.4" y2="259.5" stroke="#8a8a8a" stroke-width="1"/><line x1="1402.9" y1="261" x2="1406.2" y2="268.5" stroke="#8a8a8a" stroke-width="1"/><line x1="1388" y1="278" x2="1392.5" y2="281" stroke="#8a8a8a" stroke-width="1"/></svg><div class="a" style="left:196px;top:571px;width:823px;height:1px;background:#e6e6e6"></div>
<div class="a" style="left:195px;top:571px;width:1px;height:261px;background:#e6e6e6"></div>
<div class="a" style="left:850px;top:571px;width:1px;height:261px;background:#8f8f8f"></div>
<div class="a" style="left:851px;top:641px;width:168px;height:1px;background:#dedede"></div>
<div class="a" style="left:935px;top:641px;width:1px;height:191px;background:#e3e3e3"></div>
<div class="a" style="left:195px;top:714px;width:824px;height:1px;background:#8f8f8f"></div>
<div class="a" style="left:196px;top:746px;width:823px;height:1px;background:#e3e3e3"></div>
<div class="a" style="left:196px;top:777px;width:823px;height:1px;background:#e3e3e3"></div>
<div class="a" style="left:196px;top:808px;width:823px;height:1px;background:#e3e3e3"></div>
<div class="chip" style="left:200px;top:580px;width:83px"><svg width="12" height="12" viewBox="0 0 12 12" fill="none" stroke="#333" stroke-width="1.3"><circle cx="4.8" cy="4.8" r="3.9"/><path d="M7.6 7.6 L11 11" stroke-width="1.6"/></svg></div>
<div class="chip" style="left:287px;top:580px;width:135px"><svg width="12" height="12" viewBox="0 0 12 12" fill="none" stroke="#333" stroke-width="1.3"><circle cx="4.8" cy="4.8" r="3.9"/><path d="M7.6 7.6 L11 11" stroke-width="1.6"/></svg></div>
<div class="chip" style="left:427px;top:580px;width:127px"><svg width="12" height="12" viewBox="0 0 12 12" fill="none" stroke="#333" stroke-width="1.3"><circle cx="4.8" cy="4.8" r="3.9"/><path d="M7.6 7.6 L11 11" stroke-width="1.6"/></svg></div>
<div class="chip" style="left:559px;top:580px;width:127px"><svg width="12" height="12" viewBox="0 0 12 12" fill="none" stroke="#333" stroke-width="1.3"><circle cx="4.8" cy="4.8" r="3.9"/><path d="M7.6 7.6 L11 11" stroke-width="1.6"/></svg></div>
<div class="chip" style="left:691px;top:580px;width:127px"><svg width="12" height="12" viewBox="0 0 12 12" fill="none" stroke="#333" stroke-width="1.3"><circle cx="4.8" cy="4.8" r="3.9"/><path d="M7.6 7.6 L11 11" stroke-width="1.6"/></svg></div>
<div class="chip" style="left:200px;top:610px;width:127px"><svg width="12" height="12" viewBox="0 0 12 12" fill="none" stroke="#333" stroke-width="1.3"><circle cx="4.8" cy="4.8" r="3.9"/><path d="M7.6 7.6 L11 11" stroke-width="1.6"/></svg></div>
<div class="chip" style="left:332px;top:610px;width:68px"><svg width="12" height="12" viewBox="0 0 12 12" fill="none" stroke="#333" stroke-width="1.3"><circle cx="4.8" cy="4.8" r="3.9"/><path d="M7.6 7.6 L11 11" stroke-width="1.6"/></svg></div>
<div class="chip" style="left:406px;top:610px;width:61px"><svg width="12" height="12" viewBox="0 0 12 12" fill="none" stroke="#333" stroke-width="1.3"><circle cx="4.8" cy="4.8" r="3.9"/><path d="M7.6 7.6 L11 11" stroke-width="1.6"/></svg></div>
<div class="chip" style="left:471px;top:610px;width:82px"><svg width="12" height="12" viewBox="0 0 12 12" fill="none" stroke="#333" stroke-width="1.3"><circle cx="4.8" cy="4.8" r="3.9"/><path d="M7.6 7.6 L11 11" stroke-width="1.6"/></svg></div>
<div class="chip" style="left:559px;top:610px;width:100px"><svg width="12" height="12" viewBox="0 0 12 12" fill="none" stroke="#333" stroke-width="1.3"><circle cx="4.8" cy="4.8" r="3.9"/><path d="M7.6 7.6 L11 11" stroke-width="1.6"/></svg></div>
<div class="chip" style="left:663px;top:610px;width:125px"><svg width="12" height="12" viewBox="0 0 12 12" fill="none" stroke="#333" stroke-width="1.3"><circle cx="4.8" cy="4.8" r="3.9"/><path d="M7.6 7.6 L11 11" stroke-width="1.6"/></svg></div>
<div class="chip" style="left:855px;top:580px;width:50px"></div>
<div class="t" style="left:855px;top:659.3px;font-size:11.8px;color:#595959;">Einkaufsvol...</div>
<div class="t" style="left:855px;top:687.1px;font-size:11.8px;color:#595959;">2019</div>
<div class="t" style="left:939.5px;top:659.3px;font-size:11.8px;color:#595959;">Einkaufsvol...</div>
<div class="t" style="left:939.5px;top:687.1px;font-size:11.8px;color:#595959;">2018</div>
<svg class="a" style="left:203.5px;top:725.0px" width="12" height="12" viewBox="0 0 12 12"><circle cx="6" cy="6" r="5.6" fill="#444"/><path d="M3 6 H9 M6 3 V9" stroke="#fff" stroke-width="1.6"/></svg>
<div class="t" style="left:228px;top:724.1px;font-size:11.8px;color:#404040;">8000000 - Aixtron SE</div>
<div class="t" style="left:727.3px;width:200px;text-align:right;top:725.6px;font-size:11.8px;color:#333">6.586 k€</div>
<div class="t" style="left:809.7px;width:200px;text-align:right;top:725.6px;font-size:11.8px;color:#333">2.403 k€</div>
<svg class="a" style="left:203.5px;top:756.3px" width="12" height="12" viewBox="0 0 12 12"><circle cx="6" cy="6" r="5.6" fill="#444"/><path d="M3 6 H9 M6 3 V9" stroke="#fff" stroke-width="1.6"/></svg>
<div class="t" style="left:228px;top:755.4px;font-size:11.8px;color:#404040;">7080095 - BayWa</div>
<div class="t" style="left:727.3px;width:200px;text-align:right;top:756.6px;font-size:11.8px;color:#333">5.044 k€</div>
<div class="t" style="left:809.7px;width:200px;text-align:right;top:756.6px;font-size:11.8px;color:#333">1.837 k€</div>
<svg class="a" style="left:203.5px;top:787.3px" width="12" height="12" viewBox="0 0 12 12"><circle cx="6" cy="6" r="5.6" fill="#444"/><path d="M3 6 H9 M6 3 V9" stroke="#fff" stroke-width="1.6"/></svg>
<div class="t" style="left:228px;top:786.4px;font-size:11.8px;color:#404040;">7075098 - Evotec AG</div>
<div class="t" style="left:727.3px;width:200px;text-align:right;top:787.6px;font-size:11.8px;color:#333">4.631 k€</div>
<div class="t" style="left:809.7px;width:200px;text-align:right;top:787.6px;font-size:11.8px;color:#333">1.018 k€</div>
<svg class="a" style="left:203.5px;top:818.3px" width="12" height="12" viewBox="0 0 12 12"><circle cx="6" cy="6" r="5.6" fill="#444"/><path d="M3 6 H9 M6 3 V9" stroke="#fff" stroke-width="1.6"/></svg>
<div class="t" style="left:228px;top:817.4px;font-size:11.8px;color:#404040;">7091612 - Nemetschek SE</div>
<div class="t" style="left:727.3px;width:200px;text-align:right;top:818.6px;font-size:11.8px;color:#333">3.926 k€</div>
<div class="t" style="left:809.7px;width:200px;text-align:right;top:818.6px;font-size:11.8px;color:#333">1.264 k€</div>
<div class="a" style="left:1067px;top:571px;width:823px;height:1px;background:#e6e6e6"></div>
<div class="a" style="left:1066px;top:571px;width:1px;height:261px;background:#e6e6e6"></div>
<div class="a" style="left:1556px;top:571px;width:1px;height:261px;background:#8f8f8f"></div>
<div class="a" style="left:1889px;top:571px;width:1px;height:261px;background:#e3e3e3"></div>
<div class="a" style="left:1557px;top:670px;width:333px;height:1px;background:#dedede"></div>
<div class="a" style="left:1622px;top:670px;width:1px;height:162px;background:#e3e3e3"></div>
<div class="a" style="left:1689px;top:670px;width:1px;height:162px;background:#e3e3e3"></div>
<div class="a" style="left:1756px;top:670px;width:1px;height:162px;background:#e3e3e3"></div>
<div class="a" style="left:1822px;top:670px;width:1px;height:162px;background:#e3e3e3"></div>
<div class="a" style="left:1066px;top:744px;width:824px;height:1px;background:#8f8f8f"></div>
<div class="a" style="left:1067px;top:775px;width:823px;height:1px;background:#e3e3e3"></div>
<div class="a" style="left:1067px;top:806px;width:823px;height:1px;background:#e3e3e3"></div>
<div class="chip" style="left:1071px;top:580px;width:135px"><svg width="12" height="12" viewBox="0 0 12 12" fill="none" stroke="#333" stroke-width="1.3"><circle cx="4.8" cy="4.8" r="3.9"/><path d="M7.6 7.6 L11 11" stroke-width="1.6"/></svg></div>
<div class="chip" style="left:1211px;top:580px;width:82px"><svg width="12" height="12" viewBox="0 0 12 12" fill="none" stroke="#333" stroke-width="1.3"><circle cx="4.8" cy="4.8" r="3.9"/><path d="M7.6 7.6 L11 11" stroke-width="1.6"/></svg></div>
<div class="chip" style="left:1298px;top:580px;width:127px"><svg width="12" height="12" viewBox="0 0 12 12" fill="none" stroke="#333" stroke-width="1.3"><circle cx="4.8" cy="4.8" r="3.9"/><path d="M7.6 7.6 L11 11" stroke-width="1.6"/></svg></div>
<div class="chip" style="left:1071px;top:610px;width:127px"><svg width="12" height="12" viewBox="0 0 12 12" fill="none" stroke="#333" stroke-width="1.3"><circle cx="4.8" cy="4.8" r="3.9"/><path d="M7.6 7.6 L11 11" stroke-width="1.6"/></svg></div>
<div class="chip" style="left:1203px;top:610px;width:128px"><svg width="12" height="12" viewBox="0 0 12 12" fill="none" stroke="#333" stroke-width="1.3"><circle cx="4.8" cy="4.8" r="3.9"/><path d="M7.6 7.6 L11 11" stroke-width="1.6"/></svg></div>
<div class="chip" style="left:1336px;top:610px;width:127px"><svg width="12" height="12" viewBox="0 0 12 12" fill="none" stroke="#333" stroke-width="1.3"><circle cx="4.8" cy="4.8" r="3.9"/><path d="M7.6 7.6 L11 11" stroke-width="1.6"/></svg></div>
<div class="chip" style="left:1468px;top:610px;width:68px"><svg width="12" height="12" viewBox="0 0 12 12" fill="none" stroke="#333" stroke-width="1.3"><circle cx="4.8" cy="4.8" r="3.9"/><path d="M7.6 7.6 L11 11" stroke-width="1.6"/></svg></div>
<div class="chip" style="left:1071px;top:640px;width:61px"><svg width="12" height="12" viewBox="0 0 12 12" fill="none" stroke="#333" stroke-width="1.3"><circle cx="4.8" cy="4.8" r="3.9"/><path d="M7.6 7.6 L11 11" stroke-width="1.6"/></svg></div>
<div class="chip" style="left:1137px;top:640px;width:82px"><svg width="12" height="12" viewBox="0 0 12 12" fill="none" stroke="#333" stroke-width="1.3"><circle cx="4.8" cy="4.8" r="3.9"/><path d="M7.6 7.6 L11 11" stroke-width="1.6"/></svg></div>
<div class="chip" style="left:1224px;top:640px;width:124px"><svg width="12" height="12" viewBox="0 0 12 12" fill="none" stroke="#333" stroke-width="1.3"><circle cx="4.8" cy="4.8" r="3.9"/><path d="M7.6 7.6 L11 11" stroke-width="1.6"/></svg></div>
<div class="chip" style="left:1353px;top:640px;width:101px"><svg width="12" height="12" viewBox="0 0 12 12" fill="none" stroke="#333" stroke-width="1.3"><circle cx="4.8" cy="4.8" r="3.9"/><path d="M7.6 7.6 L11 11" stroke-width="1.6"/></svg></div>
<div class="chip" style="left:1561px;top:580px;width:50px"></div>
<div class="t" style="left:1561px;top:689.5px;font-size:11.8px;color:#595959;">#</div>
<div class="t" style="left:1561px;top:716.4px;font-size:11.8px;color:#595959;">Bestellu...</div>
<div class="t" style="left:1627.5px;top:689.5px;font-size:11.8px;color:#595959;">#</div>
<div class="t" style="left:1627.5px;top:716.4px;font-size:11.8px;color:#595959;">Bestellp...</div>
<div class="t" style="left:1694px;top:689.5px;font-size:11.8px;color:#595959;">#</div>
<div class="t" style="left:1694px;top:716.4px;font-size:11.8px;color:#595959;">Lieferun...</div>
<div class="t" style="left:1761px;top:689.5px;font-size:11.8px;color:#595959;">#</div>
<div class="t" style="left:1761px;top:716.4px;font-size:11.8px;color:#595959;">Rechnun...</div>
<div class="t" style="left:1827px;top:689.5px;font-size:11.8px;color:#595959;">#</div>
<div class="t" style="left:1827px;top:716.4px;font-size:11.8px;color:#595959;">Lieferant...</div>
<svg class="a" style="left:1074.5px;top:754.5px" width="12" height="12" viewBox="0 0 12 12"><circle cx="6" cy="6" r="5.6" fill="#444"/><path d="M3 6 H9 M6 3 V9" stroke="#fff" stroke-width="1.6"/></svg>
<div class="t" style="left:1099.5px;top:753.6px;font-size:11.8px;color:#404040;">TESLA</div>
<div class="t" style="left:1414.8px;width:200px;text-align:right;top:755.6px;font-size:11.8px;color:#333">1.530</div>
<div class="t" style="left:1481.5px;width:200px;text-align:right;top:755.6px;font-size:11.8px;color:#333">216</div>
<div class="t" style="left:1548px;width:200px;text-align:right;top:755.6px;font-size:11.8px;color:#333">1.707</div>
<div class="t" style="left:1614.9px;width:200px;text-align:right;top:755.6px;font-size:11.8px;color:#333">1.779</div>
<div class="t" style="left:1680.1px;width:200px;text-align:right;top:755.6px;font-size:11.8px;color:#333">10</div>
<svg class="a" style="left:1074.5px;top:785.5px" width="12" height="12" viewBox="0 0 12 12"><circle cx="6" cy="6" r="5.6" fill="#444"/><path d="M3 6 H9 M6 3 V9" stroke="#fff" stroke-width="1.6"/></svg>
<div class="t" style="left:1099.5px;top:784.6px;font-size:11.8px;color:#404040;">7080002 - MorphoSys AG</div>
<div class="t" style="left:1414.8px;width:200px;text-align:right;top:786.6px;font-size:11.8px;color:#333">504</div>
<div class="t" style="left:1481.5px;width:200px;text-align:right;top:786.6px;font-size:11.8px;color:#333">1.469</div>
<div class="t" style="left:1548px;width:200px;text-align:right;top:786.6px;font-size:11.8px;color:#333">508</div>
<div class="t" style="left:1614.9px;width:200px;text-align:right;top:786.6px;font-size:11.8px;color:#333">504</div>
<div class="t" style="left:1680.1px;width:200px;text-align:right;top:786.6px;font-size:11.8px;color:#333">1</div>
<svg class="a" style="left:1074.5px;top:816.5px" width="12" height="12" viewBox="0 0 12 12"><circle cx="6" cy="6" r="5.6" fill="#444"/><path d="M3 6 H9 M6 3 V9" stroke="#fff" stroke-width="1.6"/></svg>
<div class="t" style="left:1099.5px;top:815.6px;font-size:11.8px;color:#404040;">7072713 - Norma Group SE</div>
<div class="t" style="left:1414.8px;width:200px;text-align:right;top:817.6px;font-size:11.8px;color:#333">426</div>
<div class="t" style="left:1481.5px;width:200px;text-align:right;top:817.6px;font-size:11.8px;color:#333">46</div>
<div class="t" style="left:1548px;width:200px;text-align:right;top:817.6px;font-size:11.8px;color:#333">521</div>
<div class="t" style="left:1614.9px;width:200px;text-align:right;top:817.6px;font-size:11.8px;color:#333">520</div>
<div class="t" style="left:1680.1px;width:200px;text-align:right;top:817.6px;font-size:11.8px;color:#333">1</div>
<div class="a" style="left:1003px;top:715px;width:16px;height:117px;background:linear-gradient(to right,rgba(0,0,0,0),rgba(0,0,0,0.05))"></div>
<div class="a" style="left:1873px;top:745px;width:16px;height:87px;background:linear-gradient(to right,rgba(0,0,0,0),rgba(0,0,0,0.05))"></div>
<svg class="a" style="left:0;top:0" width="1916" height="879" viewBox="0 0 1916 879" font-family="Liberation Sans, sans-serif" font-size="12.3" fill="#404040"><text x="207.8" y="596.9" textLength="50.0" lengthAdjust="spacingAndGlyphs">Lieferant</text><text x="294.8" y="596.9" textLength="102.0" lengthAdjust="spacingAndGlyphs">Lieferanten-Clus...</text><text x="434.8" y="596.9" textLength="94.0" lengthAdjust="spacingAndGlyphs">Materialgruppe 1</text><text x="566.8" y="596.9" textLength="94.0" lengthAdjust="spacingAndGlyphs">Materialgruppe 2</text><text x="698.8" y="596.9" textLength="94.0" lengthAdjust="spacingAndGlyphs">Materialgruppe 3</text><text x="207.8" y="626.9" textLength="94.0" lengthAdjust="spacingAndGlyphs">Materialgruppe 4</text><text x="339.8" y="626.9" textLength="35.0" lengthAdjust="spacingAndGlyphs">Artikel</text><text x="413.8" y="626.9" textLength="28.0" lengthAdjust="spacingAndGlyphs">Land</text><text x="478.8" y="626.9" textLength="49.0" lengthAdjust="spacingAndGlyphs">Mandant</text><text x="566.8" y="626.9" textLength="67.0" lengthAdjust="spacingAndGlyphs">Kostenstelle</text><text x="670.8" y="626.9" textLength="92.0" lengthAdjust="spacingAndGlyphs">Einkäufergruppe</text><text x="863.1" y="596.9" textLength="33.7" lengthAdjust="spacingAndGlyphs">Werte</text><text x="1078.8" y="596.9" textLength="102.0" lengthAdjust="spacingAndGlyphs">Lieferanten-Clus...</text><text x="1218.8" y="596.9" textLength="49.0" lengthAdjust="spacingAndGlyphs">Lieferant</text><text x="1305.8" y="596.9" textLength="94.0" lengthAdjust="spacingAndGlyphs">Materialgruppe 1</text><text x="1078.8" y="626.9" textLength="94.0" lengthAdjust="spacingAndGlyphs">Materialgruppe 2</text><text x="1210.8" y="626.9" textLength="95.0" lengthAdjust="spacingAndGlyphs">Materialgruppe 3</text><text x="1343.8" y="626.9" textLength="94.0" lengthAdjust="spacingAndGlyphs">Materialgruppe 4</text><text x="1475.8" y="626.9" textLength="35.0" lengthAdjust="spacingAndGlyphs">Artikel</text><text x="1078.8" y="656.9" textLength="28.0" lengthAdjust="spacingAndGlyphs">Land</text><text x="1144.8" y="656.9" textLength="49.0" lengthAdjust="spacingAndGlyphs">Mandant</text><text x="1231.8" y="656.9" textLength="91.0" lengthAdjust="spacingAndGlyphs">Einkäufergruppe</text><text x="1360.8" y="656.9" textLength="68.0" lengthAdjust="spacingAndGlyphs">Kostenstelle</text><text x="1569.1" y="596.9" textLength="33.7" lengthAdjust="spacingAndGlyphs">Werte</text></svg>
</body></html>
